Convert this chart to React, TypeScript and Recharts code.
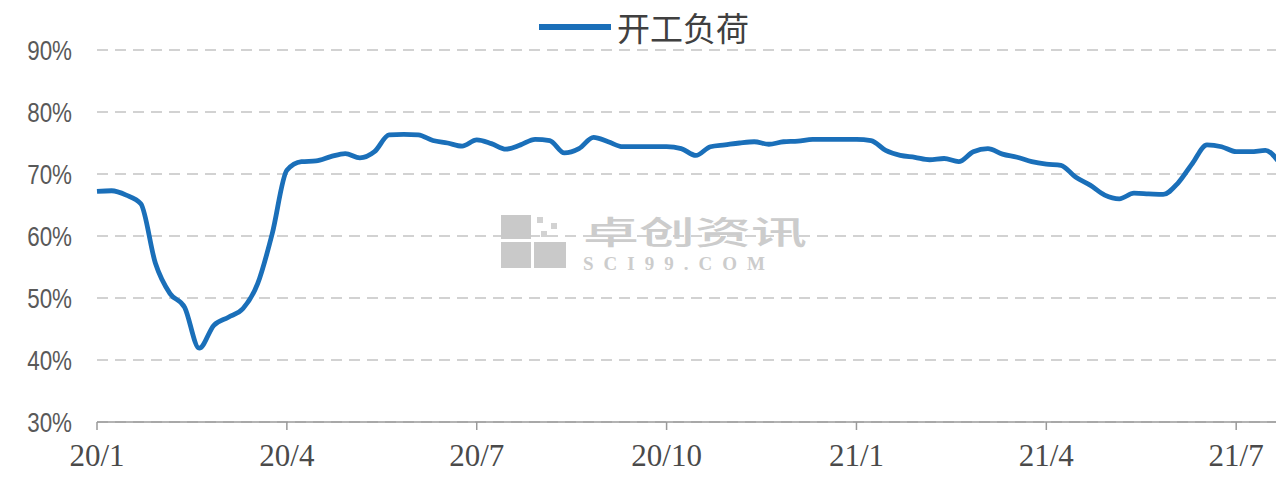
import React from "react";
import { LineChart, Line, XAxis, YAxis, CartesianGrid, Legend } from "recharts";

// weekly operating load (%), from 2020-01 to late 2021-07
const loadValues = [
  67.2, 67.3, 66.6, 65.2, 55.6, 50.7, 48.5, 41.9, 45.6, 46.9,
  48.3, 52.3, 60.4, 70.6, 72.0, 72.1, 72.8, 73.3, 72.6, 73.6,
  76.3, 76.4, 76.3, 75.4, 75.0, 74.5, 75.5, 74.9, 74.0, 74.7,
  75.6, 75.4, 73.4, 74.1, 75.9, 75.2, 74.4, 74.4, 74.4, 74.4,
  74.1, 73.0, 74.4, 74.7, 75.0, 75.2, 74.8, 75.2, 75.3, 75.6,
  75.6, 75.6, 75.6, 75.4, 73.8, 73.0, 72.7, 72.3, 72.5, 72.0,
  73.6, 74.1, 73.2, 72.7, 72.0, 71.6, 71.4, 69.5, 68.2, 66.6,
  66.0, 66.9, 66.8, 66.7, 68.5, 71.7, 74.7, 74.4, 73.6, 73.6,
  73.8, 71.7,
];

const tickWeeks = [0, 13, 26, 39, 52, 65, 78];
const tickLabels = ["20/1", "20/4", "20/7", "20/10", "21/1", "21/4", "21/7"];
const yTicks = [30, 40, 50, 60, 70, 80, 90];
const seriesName = "开工负荷";

const data = loadValues.map((v, i) => ({ week: i, load: v }));

const LINE_COLOR = "#1a6fb9";

// narrow percent labels (the original uses a condensed face)
const YTick = ({ x, y, payload }: any) => (
  <g transform={`translate(${x},${y})`}>
    <text
      x={0}
      y={0}
      dy="0.36em"
      textAnchor="end"
      fill="#595959"
      fontSize={28}
      fontFamily="'Liberation Sans', Arial, sans-serif"
      transform="scale(0.8,1)"
    >
      {`${payload.value}%`}
    </text>
  </g>
);

const LegendContent = () => (
  <div style={{ display: "flex", alignItems: "center", justifyContent: "center" }}>
    <svg width={72} height={8}>
      <line x1={0} y1={4} x2={72} y2={4} stroke={LINE_COLOR} strokeWidth={6} />
    </svg>
    <span
      style={{
        marginLeft: 6,
        fontSize: 33,
        lineHeight: "36px",
        fontFamily: "'Noto Sans CJK SC', sans-serif",
        color: "#404040",
      }}
    >
      {seriesName}
    </span>
  </div>
);

const Watermark = () => (
  <div style={{ position: "absolute", left: 493, top: 205, pointerEvents: "none" }}>
    <div style={{ position: "absolute", left: 0, top: 2, width: 30, height: 24, background: "#c9c9c9" }} />
    <div style={{ position: "absolute", left: 0, top: 29, width: 30, height: 26, background: "#c9c9c9" }} />
    <div style={{ position: "absolute", left: 33, top: 29, width: 32, height: 26, background: "#c9c9c9" }} />
    <div style={{ position: "absolute", left: 36, top: 4, width: 6, height: 6, background: "#d2d2d2" }} />
    <div style={{ position: "absolute", left: 50, top: 10, width: 6, height: 6, background: "#d2d2d2" }} />
    <div style={{ position: "absolute", left: 40, top: 18, width: 6, height: 6, background: "#d2d2d2" }} />
    <div
      style={{
        position: "absolute",
        left: 82,
        top: -1,
        fontSize: 32,
        lineHeight: "36px",
        whiteSpace: "nowrap",
        fontFamily: "'Noto Sans CJK SC', sans-serif",
        fontWeight: 500,
        color: "#cccccc",
        transform: "scaleX(1.75)",
        transformOrigin: "left top",
      }}
    >
      卓创资讯
    </div>
    <div
      style={{
        position: "absolute",
        left: 82,
        top: 41,
        fontSize: 19,
        lineHeight: "20px",
        whiteSpace: "nowrap",
        fontFamily: "'Liberation Serif', serif",
        fontWeight: 700,
        letterSpacing: 10,
        color: "#cccccc",
      }}
    >
      SCI99.COM
    </div>
  </div>
);

export default function App() {
  return (
    <div style={{ position: "relative", width: 1276, height: 490, background: "#fff" }}>
      <LineChart
        width={1276}
        height={490}
        data={data}
        margin={{ top: 42, right: 4, left: 0, bottom: 36 }}
      >
        <CartesianGrid
          horizontal
          vertical={false}
          stroke="#c4c4c4"
          strokeWidth={1.3}
          strokeDasharray="11 7"
        />
        <XAxis
          dataKey="week"
          type="number"
          domain={[0, 81]}
          ticks={tickWeeks}
          tickFormatter={(v: number) => tickLabels[tickWeeks.indexOf(v)] ?? ""}
          height={40}
          axisLine={{ stroke: "#9a9a9a", strokeWidth: 1.5 }}
          tickLine={{ stroke: "#9a9a9a", strokeWidth: 1.5 }}
          tickSize={8}
          tickMargin={14}
          tick={{ fill: "#4a4a4a", fontSize: 31, fontFamily: "'Liberation Serif', serif" }}
          interval={0}
        />
        <YAxis
          type="number"
          domain={[30, 90]}
          ticks={yTicks}
          width={89}
          axisLine={false}
          tickLine={false}
          tickMargin={19}
          tick={<YTick />}
          interval={0}
        />
        <Legend
          verticalAlign="middle"
          align="center"
          wrapperStyle={{ top: 1 }}
          content={() => <LegendContent />}
        />
        <Line
          type="monotone"
          dataKey="load"
          name={seriesName}
          stroke={LINE_COLOR}
          strokeWidth={4.8}
          dot={false}
          isAnimationActive={false}
        />
      </LineChart>
      <Watermark />
    </div>
  );
}
